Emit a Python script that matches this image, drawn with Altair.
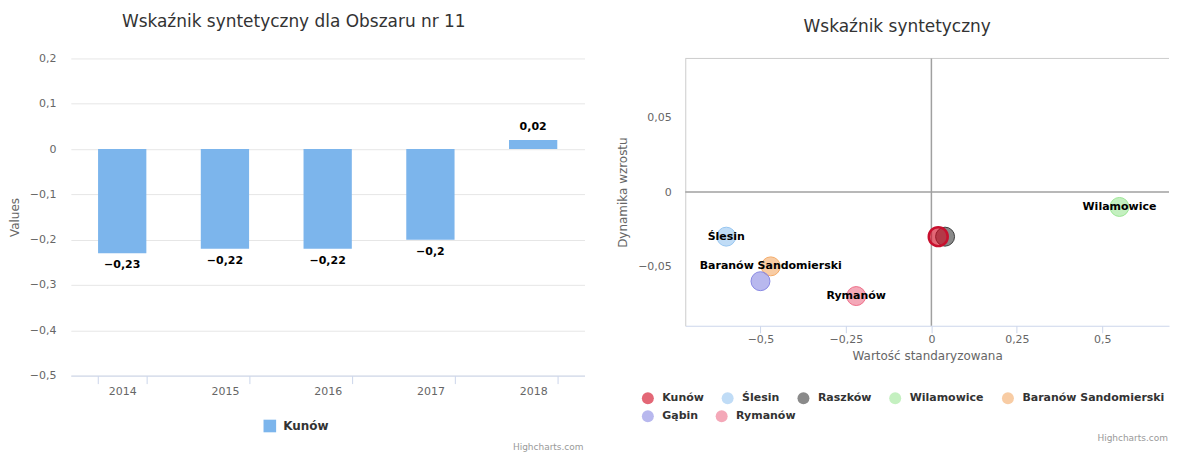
import altair as alt
import pandas as pd

# ---- Left chart data ----
years = ["2014", "2015", "2016", "2017", "2018"]
values = [-0.23, -0.22, -0.22, -0.2, 0.02]
bar_series = "Kunów"

# ---- Right chart data ----
names = ["Kunów", "Ślesin", "Raszków", "Wilamowice", "Baranów Sandomierski", "Gąbin", "Rymanów"]
xs = [0.02, -0.6, 0.04, 0.55, -0.47, -0.5, -0.22]
ys = [-0.03, -0.03, -0.03, -0.01, -0.05, -0.06, -0.07]
label_shown = [False, True, False, True, True, False, True]
colors = ["#d0021b", "#96c5f0", "#3c3c3c", "#9de696", "#f3aa67", "#8989e3", "#ed6e89"]
kunow_stroke = "#c8102e"
legend_rows = [names[:5], names[5:]]

FONT = "DejaVu Sans"
COMMA = "replace(format(datum.value, '~g'), '.', ',')"

# ================= Left: bar chart =================
df_bar = pd.DataFrame({"year": years, "value": values, "series": [bar_series] * len(years)})
LW, LH = 515, 318

base = alt.Chart(df_bar)
bars = base.mark_bar().encode(
    x=alt.X("year:N", sort=years,
            scale=alt.Scale(paddingInner=0.53, paddingOuter=0.265),
            axis=alt.Axis(title=None, labelAngle=0, tickBand="extent", domainColor="#ccd6eb",
                          tickColor="#ccd6eb", tickSize=8, labelColor="#666666", labelFontSize=11,
                          labelPadding=2, grid=False)),
    y=alt.Y("value:Q", scale=alt.Scale(domain=[-0.5, 0.2], nice=False, zero=False),
            axis=alt.Axis(title="Values", values=[-0.5, -0.4, -0.3, -0.2, -0.1, 0, 0.1, 0.2],
                          grid=True, gridColor="#e6e6e6", domain=False, ticks=False,
                          labelExpr=COMMA, labelPadding=15, labelColor="#666666", labelFontSize=11,
                          titleColor="#666666", titleFontWeight="normal", titleFontSize=12,
                          titlePadding=8)),
    color=alt.Color("series:N", scale=alt.Scale(range=["#7cb5ec"]),
                    legend=alt.Legend(orient="none", legendX=193, legendY=362, title=None,
                                      symbolType="square", symbolSize=160, symbolStrokeWidth=0,
                                      labelFontSize=12, labelFontWeight="bold", labelColor="#333333",
                                      labelOffset=7, padding=0)),
)
lab_calc = "replace(format(datum.value, '~g'), '.', ',')"
neg_labels = base.transform_filter("datum.value < 0").transform_calculate(lbl=lab_calc).mark_text(
    dy=12, fontWeight="bold", fontSize=11, color="#000000", baseline="middle"
).encode(x=alt.X("year:N", sort=years), y="value:Q", text="lbl:N")
pos_labels = base.transform_filter("datum.value >= 0").transform_calculate(lbl=lab_calc).mark_text(
    dy=-13, fontWeight="bold", fontSize=11, color="#000000", baseline="middle"
).encode(x=alt.X("year:N", sort=years), y="value:Q", text="lbl:N")
credit_l = alt.Chart(pd.DataFrame({"t": ["Highcharts.com"]})).mark_text(
    align="right", baseline="middle", fontSize=9, color="#999999"
).encode(x=alt.value(LW - 1), y=alt.value(390), text="t:N")

left = alt.layer(bars, neg_labels, pos_labels, credit_l).properties(
    width=LW, height=LH,
    title=alt.TitleParams("Wskaźnik syntetyczny dla Obszaru nr 11", fontSize=17,
                          fontWeight="normal", color="#333333", offset=22, dx=-34),
)

# ================= Right: bubble chart =================
df_b = pd.DataFrame({"name": names, "x": xs, "y": ys, "show": label_shown})
RW, RH = 485, 268
xscale = alt.Scale(domain=[-0.72, 0.695], nice=False, zero=False)
yscale = alt.Scale(domain=[-0.09, 0.09], nice=False, zero=False)
cscale = alt.Scale(domain=names, range=colors)

xaxis = alt.Axis(title="Wartość standaryzowana", values=[-0.5, -0.25, 0, 0.25, 0.5], labelExpr=COMMA,
                 grid=False, domainColor="#ccd6eb", tickColor="#ccd6eb", tickSize=7, labelPadding=1,
                 labelColor="#666666", labelFontSize=11, titleColor="#666666", titleFontWeight="normal",
                 titleFontSize=12, titlePadding=6)
yaxis = alt.Axis(title="Dynamika wzrostu", values=[-0.05, 0, 0.05], labelExpr=COMMA, grid=False,
                 domainColor="#cccccc", ticks=False, labelPadding=14, labelColor="#666666",
                 labelFontSize=11, titleColor="#666666", titleFontWeight="normal", titleFontSize=12,
                 titlePadding=8)

bb = alt.Chart(df_b)
others = bb.transform_filter("datum.name != 'Kunów'").mark_circle(
    size=361, fillOpacity=0.6, strokeWidth=1, opacity=1
).encode(
    x=alt.X("x:Q", scale=xscale, axis=xaxis),
    y=alt.Y("y:Q", scale=yscale, axis=yaxis),
    fill=alt.Fill("name:N", scale=cscale, legend=None),
    stroke=alt.Stroke("name:N", scale=cscale, legend=None),
)
kunow = bb.transform_filter("datum.name == 'Kunów'").mark_circle(
    size=361, fillOpacity=0.6, strokeWidth=2.5, opacity=1, fill=colors[0], stroke=kunow_stroke
).encode(
    x=alt.X("x:Q", scale=xscale),
    y=alt.Y("y:Q", scale=yscale),
)


def legend_layer(row_names, legend_y):
    row_colors = [colors[names.index(n)] for n in row_names]
    return bb.transform_filter("false").mark_circle(
        size=144, fillOpacity=0.6, strokeWidth=1, opacity=1
    ).encode(
        x=alt.X("x:Q", scale=xscale),
        y=alt.Y("y:Q", scale=yscale),
        color=alt.Color("name:N", scale=alt.Scale(domain=row_names, range=row_colors),
                        legend=alt.Legend(orient="none", legendX=-44, legendY=legend_y, title=None,
                                          direction="horizontal", symbolType="circle",
                                          symbolSize=144, symbolStrokeWidth=1, symbolOpacity=0.6,
                                          labelFontSize=11, labelFontWeight="bold",
                                          labelColor="#333333", labelOffset=8, columnPadding=17,
                                          padding=0)),
    )


leg1 = legend_layer(legend_rows[0], 334)
leg2 = legend_layer(legend_rows[1], 352)

zero_x = alt.Chart(pd.DataFrame({"v": [0]})).mark_rule(color="#a0a0a0", strokeWidth=1.5).encode(x=alt.X("v:Q", scale=xscale))
zero_y = alt.Chart(pd.DataFrame({"v": [0]})).mark_rule(color="#a0a0a0", strokeWidth=1.5).encode(y=alt.Y("v:Q", scale=yscale))
top_border = alt.Chart(pd.DataFrame({"v": [0]})).mark_rule(color="#cccccc", strokeWidth=1).encode(
    x=alt.value(0), x2=alt.value(RW), y=alt.value(0))
bub_labels = bb.transform_filter("datum.show").mark_text(
    fontWeight="bold", fontSize=11, color="#000000", baseline="middle", align="center"
).encode(x=alt.X("x:Q", scale=xscale), y=alt.Y("y:Q", scale=yscale), text="name:N")
credit_r = alt.Chart(pd.DataFrame({"t": ["Highcharts.com"]})).mark_text(
    align="right", baseline="middle", fontSize=9, color="#999999"
).encode(x=alt.value(RW - 1), y=alt.value(381), text="t:N")

right = alt.layer(top_border, zero_x, zero_y, others, kunow, bub_labels, credit_r, leg1, leg2).resolve_scale(
    color="independent"
).properties(
    width=RW, height=RH,
    title=alt.TitleParams("Wskaźnik syntetyczny", fontSize=17, fontWeight="normal",
                          color="#333333", offset=22, dx=-30),
)

chart = alt.hconcat(left, right, spacing=32).resolve_scale(color="independent").properties(
    padding={"left": 0, "top": 4, "right": 0, "bottom": 0}
).configure(font=FONT).configure_view(stroke=None).configure_axis(labelFont=FONT, titleFont=FONT).configure_legend(
    labelFont=FONT).configure_title(font=FONT)

chart.save("out.html", embed_options={"renderer": "svg", "actions": False})
